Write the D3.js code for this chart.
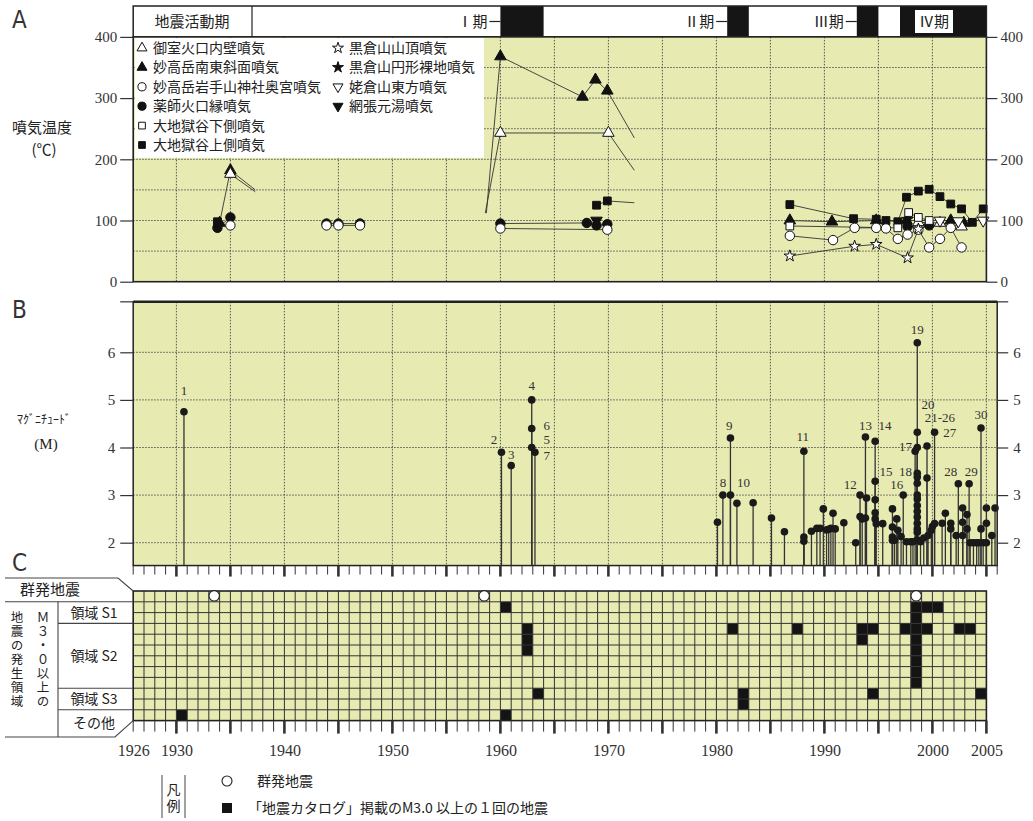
<!DOCTYPE html>
<html>
<head>
<meta charset="utf-8">
<script src="https://cdn.jsdelivr.net/npm/d3@7"></script>
<style>
body { margin: 0; background: #fff; }
svg { display: block; }
.vert { writing-mode: vertical-rl; text-orientation: upright; }
</style>
</head>
<body>
<svg id="chart" width="1033" height="821"></svg>
<script>
// ---- data ----
// header: earthquake activity periods
const periodLabels = ['Ⅰ期', 'Ⅱ期', 'Ⅲ期', 'Ⅳ期'];
const periodStart = [1960, 1981, 1993, 1997];
const periodEnd = [1964, 1983, 1995, 2005];

// panel A: fumarole temperature, each series = runs of [year, °C]
const seriesNames = ['御室火口内壁噴気', '妙高岳南東斜面噴気', '妙高岳岩手山神社奥宮噴気', '薬師火口縁噴気',
  '大地獄谷下側噴気', '大地獄谷上側噴気', '黒倉山山頂噴気', '黒倉山円形裸地噴気', '姥倉山東方噴気', '網張元湯噴気'];
const tOmuro = [[[1935, 176]], [[1960, 243], [1970, 243]], [[1998.7, 97], [2000.7, 96], [2002.7, 90]]];
const tNantou = [[[1934, 96], [1935, 182]], [[1960, 368], [1967.6, 302], [1968.8, 330], [1969.9, 312]],
  [[1986.8, 100], [1990.7, 98], [1994.8, 100], [1997.6, 100], [2001.7, 100], [2002.9, 96]]];
const tIwate = [[[1935, 92]], [[1943.9, 92], [1945, 92], [1947, 92]], [[1960, 87], [1969.9, 85]],
  [[1986.8, 75], [1990.8, 68], [1992.8, 88], [1994.8, 88], [1995.7, 87], [1996.8, 70], [1997.7, 77],
   [1998.7, 85], [1999.7, 56], [2000.7, 70], [2001.7, 88], [2002.7, 56]]];
const tYakushi = [[[1933.8, 88], [1935, 105]], [[1943.9, 95], [1945, 95], [1947, 95]],
  [[1960, 95], [1968, 96], [1968.9, 92], [1969.9, 94]], [[1997.7, 90], [1999.7, 92]]];
const tJigokuLow = [[[1986.8, 91], [1996.8, 88], [1997.8, 113], [1998.7, 105], [1999.7, 100]]];
const tJigokuUp = [[[1933.8, 98]], [[1968.9, 125], [1969.9, 132]],
  [[1986.8, 126], [1992.7, 103], [1994.8, 102], [1995.7, 100], [1996.8, 98], [1997.6, 138], [1998.7, 148],
   [1999.7, 151], [2000.7, 139], [2001.7, 127], [2002.7, 119], [2003.7, 97], [2004.7, 119]]];
const tKurokuraTop = [[[1986.8, 42], [1992.8, 58], [1994.8, 61], [1997.7, 39], [1998.7, 86]]];
const tKurokuraBare = [[[1997.7, 102]]];
const tUbakura = [[[2000.7, 100], [2002.4, 99], [2004.7, 100]]];
const tAmihari = [[[1968.9, 100]]];
const tempSeries = [tOmuro, tNantou, tIwate, tYakushi, tJigokuLow, tJigokuUp, tKurokuraTop, tKurokuraBare, tUbakura, tAmihari];
// broken connecting lines: [year1, °C1, year2, °C2]
const tempTails = [[1935, 182, 1937.3, 150], [1935, 176, 1937.3, 147], [1958.7, 112, 1960, 368],
  [1958.6, 112, 1960, 243], [1969.9, 312, 1972.4, 235], [1970, 243, 1972.4, 182], [1969.9, 132, 1972.4, 129]];
const tempTicks = [0, 100, 200, 300, 400];

// panel B: earthquakes [year, magnitude]
const quakes = [
  [1930.7, 4.75], [1960.1, 3.9], [1961.0, 3.62], [1962.9, 5.0], [1962.9, 4.4], [1962.9, 4.0], [1963.2, 3.9],
  [1980.1, 2.43], [1980.6, 3.0], [1981.3, 4.2], [1981.3, 3.0], [1981.9, 2.83], [1983.4, 2.84], [1985.1, 2.52],
  [1986.3, 2.23], [1988.1, 3.92], [1988.1, 2.12], [1988.1, 2.03], [1988.8, 2.24], [1989.3, 2.3], [1989.6, 2.3],
  [1989.9, 2.71], [1990.2, 2.27], [1990.4, 2.28], [1990.6, 2.3], [1990.8, 2.62], [1991.0, 2.29], [1991.8, 2.42],
  [1992.9, 2.0], [1993.3, 3.0], [1993.3, 2.55], [1993.5, 2.5], [1993.8, 4.22], [1993.8, 2.52], [1993.9, 2.94],
  [1994.7, 4.13], [1994.7, 3.29], [1994.7, 2.9], [1994.7, 2.63], [1994.7, 2.5], [1994.8, 2.4], [1995.4, 2.4],
  [1996.3, 2.71], [1996.3, 2.33], [1996.3, 2.12], [1996.3, 2.05], [1996.5, 2.05], [1996.7, 2.5], [1996.8, 2.26],
  [1997.1, 2.13], [1997.3, 3.0], [1997.6, 2.02], [1998.0, 2.02], [1998.2, 2.02], [1998.4, 3.92],
  [1998.6, 6.2], [1998.6, 4.32], [1998.6, 4.0], [1998.6, 3.46], [1998.6, 3.38], [1998.6, 3.25], [1998.6, 3.0],
  [1998.6, 2.92], [1998.6, 2.78], [1998.6, 2.66], [1998.6, 2.54], [1998.6, 2.41], [1998.6, 2.29], [1998.6, 2.22],
  [1998.6, 2.06], [1998.9, 2.02], [1999.2, 2.1], [1999.5, 4.03], [1999.5, 3.36], [1999.6, 2.15], [1999.9, 2.26],
  [2000.0, 2.34], [2000.2, 4.32], [2000.2, 2.4], [2000.9, 2.41], [2001.2, 2.62], [2001.7, 2.41], [2001.7, 2.29],
  [2002.2, 2.15], [2002.4, 3.24], [2002.8, 2.73], [2002.8, 2.43], [2002.8, 2.15], [2003.2, 2.59], [2003.2, 2.29],
  [2003.4, 3.24], [2003.5, 2.0], [2003.8, 2.0], [2004.1, 2.0], [2004.3, 2.0], [2004.5, 4.41], [2004.5, 2.29],
  [2004.7, 2.0], [2005.0, 2.73], [2005.0, 2.41], [2005.0, 2.0], [2005.5, 2.15], [2005.8, 2.73]
];
// quake number labels: [text, year, magnitude]
const quakeLabels = [
  ['1', 1930.7, 5.2], ['2', 1959.4, 4.17], ['3', 1961.0, 3.85], ['4', 1962.9, 5.3], ['6', 1964.3, 4.46],
  ['5', 1964.3, 4.16], ['7', 1964.3, 3.83], ['8', 1980.6, 3.27], ['9', 1981.2, 4.46], ['10', 1982.5, 3.27],
  ['11', 1988.0, 4.23], ['12', 1992.4, 3.22], ['13', 1993.8, 4.46], ['14', 1995.6, 4.46], ['15', 1995.7, 3.5],
  ['16', 1996.7, 3.22], ['17', 1997.5, 4.03], ['18', 1997.5, 3.5], ['19', 1998.6, 6.47], ['20', 1999.6, 4.9],
  ['21-26', 2000.7, 4.62], ['27', 2001.6, 4.32], ['28', 2001.7, 3.5], ['29', 2003.6, 3.5], ['30', 2004.5, 4.69]
];
const magTicks = [2, 3, 4, 5, 6];

// panel C: grid of years x regions
const regionLabels = ['群発地震', '領域 S1', '領域 S2', '領域 S3', 'その他'];
const regionRows = [1, 2, 6, 2, 1];
const swarmYears = [1933, 1958, 1998];
// [year, row] cells with an M3.0+ event
const quakeCells = [[1930, 11], [1960, 1], [1960, 11], [1962, 3], [1962, 4], [1962, 5], [1963, 9],
  [1981, 3], [1982, 9], [1982, 10], [1987, 3], [1993, 3], [1993, 4], [1994, 3], [1994, 9],
  [1997, 3], [1998, 1], [1998, 2], [1998, 3], [1998, 4], [1998, 5], [1998, 6], [1998, 7], [1998, 8],
  [1999, 1], [1999, 3], [2000, 1], [2002, 3], [2003, 3], [2004, 9]];
const yearLabels = [1926, 1930, 1940, 1950, 1960, 1970, 1980, 1990, 2000, 2005];

// ---- drawing ----
const jp = '"Noto Sans CJK JP", sans-serif';
const num = '"Liberation Serif", "DejaVu Serif", serif';
const bg = '#e7ebb2';
const ink = '#222';
const svg = d3.select('#chart');

const x = d3.scaleLinear().domain([1926, 2006]).range([133.2, 997.2]);
const yA = d3.scaleLinear().domain([0, 400]).range([281.7, 36.9]);
const yB = d3.scaleLinear().domain([2, 6]).range([542.7, 352.3]);

function panelLetter(t, y) {
  svg.append('text').attr('x', 12).attr('y', y).text(t)
    .attr('font-family', '"DejaVu Sans Condensed", "DejaVu Sans", sans-serif')
    .attr('font-size', 24).attr('fill', '#333');
}
panelLetter('A', 28);
panelLetter('B', 318);
panelLetter('C', 571);

function styleAxis(g, size) {
  g.select('.domain').remove();
  g.selectAll('line').attr('stroke', '#333').attr('stroke-width', 1.2);
  g.selectAll('text').attr('font-family', num).attr('font-size', size).attr('fill', '#333');
}

// header band
const hTop = 6, hBot = yA(400);
svg.append('rect').attr('x', x(1926)).attr('y', hTop).attr('width', x(2005) - x(1926))
  .attr('height', hBot - hTop).attr('fill', '#fff');
svg.selectAll('.period').data(periodLabels).enter().append('rect')
  .attr('x', (d, i) => x(periodStart[i])).attr('y', hTop)
  .attr('width', (d, i) => x(periodEnd[i]) - x(periodStart[i])).attr('height', hBot - hTop)
  .attr('fill', '#151515');
svg.append('rect').attr('x', x(1926)).attr('y', hTop).attr('width', x(2005) - x(1926))
  .attr('height', hBot - hTop).attr('fill', 'none').attr('stroke', ink).attr('stroke-width', 1.5);
svg.append('line').attr('x1', 252).attr('x2', 252).attr('y1', hTop).attr('y2', hBot)
  .attr('stroke', ink).attr('stroke-width', 1.2);
svg.append('text').attr('x', 192).attr('y', 27).attr('text-anchor', 'middle').text('地震活動期')
  .attr('font-family', jp).attr('font-size', 15).attr('fill', ink);
periodLabels.forEach((p, i) => {
  const x0 = x(periodStart[i]);
  if (i < 3) {
    svg.append('text').attr('x', x0 - 13).attr('y', 27).attr('text-anchor', 'end').text(p)
      .attr('font-family', jp).attr('font-size', 15).attr('fill', ink);
    svg.append('line').attr('x1', x0 - 11).attr('x2', x0).attr('y1', 21.5).attr('y2', 21.5)
      .attr('stroke', ink).attr('stroke-width', 1.2);
  } else {
    svg.append('rect').attr('x', x0 + 15).attr('y', 10).attr('width', 38).attr('height', 23)
      .attr('fill', '#fff');
    svg.append('text').attr('x', x0 + 34).attr('y', 27).attr('text-anchor', 'middle').text(p)
      .attr('font-family', jp).attr('font-size', 15).attr('fill', ink);
  }
});

// panel A
svg.append('rect').attr('x', x(1926)).attr('y', yA(400)).attr('width', x(2005) - x(1926))
  .attr('height', yA(0) - yA(400)).attr('fill', bg);
svg.selectAll('.vgA').data(d3.range(1930, 2005, 5)).enter().append('line')
  .attr('x1', d => x(d)).attr('x2', d => x(d)).attr('y1', yA(400)).attr('y2', yA(0))
  .attr('stroke', '#555').attr('stroke-width', 1).attr('stroke-dasharray', '1.5,1.5');
svg.selectAll('.hgA').data(d3.range(50, 400, 50)).enter().append('line')
  .attr('x1', x(1926)).attr('x2', x(2005)).attr('y1', d => yA(d)).attr('y2', d => yA(d))
  .attr('stroke', '#555').attr('stroke-width', 1).attr('stroke-dasharray', '1.5,1.5');

const markStyle = [
  {type: d3.symbolTriangle, rot: 0, fill: false, size: 58},
  {type: d3.symbolTriangle, rot: 0, fill: true, size: 58},
  {type: d3.symbolCircle, rot: 0, fill: false, size: 70},
  {type: d3.symbolCircle, rot: 0, fill: true, size: 70},
  {type: d3.symbolSquare, rot: 0, fill: false, size: 60},
  {type: d3.symbolSquare, rot: 0, fill: true, size: 60},
  {type: d3.symbolStar, rot: 0, fill: false, size: 42},
  {type: d3.symbolStar, rot: 0, fill: true, size: 42},
  {type: d3.symbolTriangle, rot: 180, fill: false, size: 58},
  {type: d3.symbolTriangle, rot: 180, fill: true, size: 58}
];
function drawMark(g, s, cx, cy, scale) {
  g.append('path').attr('d', d3.symbol().type(s.type).size(s.size * scale)())
    .attr('transform', `translate(${cx},${cy}) rotate(${s.rot})`)
    .attr('fill', s.fill ? '#111' : '#fff').attr('stroke', '#111').attr('stroke-width', 1);
}

const gLines = svg.append('g');
const lineA = d3.line().x(d => x(d[0])).y(d => yA(d[1]));
tempSeries.forEach(runs => runs.filter(r => r.length > 1).forEach(r => {
  gLines.append('path').attr('d', lineA(r)).attr('fill', 'none').attr('stroke', '#333').attr('stroke-width', 0.9);
}));
gLines.selectAll('.tail').data(tempTails).enter().append('line')
  .attr('x1', d => x(d[0])).attr('y1', d => yA(d[1])).attr('x2', d => x(d[2])).attr('y2', d => yA(d[3]))
  .attr('stroke', '#333').attr('stroke-width', 0.9);
const gMarks = svg.append('g');
[1, 3, 5, 7, 9, 0, 2, 4, 6, 8].forEach(i => {
  tempSeries[i].forEach(r => r.forEach(p => drawMark(gMarks, markStyle[i], x(p[0]), yA(p[1]), 1)));
});

// legend A
const gLeg = svg.append('g');
gLeg.append('rect').attr('x', 135).attr('y', yA(400) + 1).attr('width', 349).attr('height', 120).attr('fill', '#fff');
seriesNames.forEach((n, i) => {
  const col = i < 6 ? 0 : 1;
  const row = i < 6 ? i : i - 6;
  const sx = col === 0 ? 142 : 338;
  const cy = 48 + row * 19.4;
  drawMark(gLeg, markStyle[i], sx, cy, i === 6 || i === 7 ? 0.9 : 0.75);
  gLeg.append('text').attr('x', sx + 11).attr('y', cy + 5).text(n)
    .attr('font-family', jp).attr('font-size', 14).attr('fill', ink);
});

svg.append('rect').attr('x', x(1926)).attr('y', yA(400)).attr('width', x(2005) - x(1926))
  .attr('height', yA(0) - yA(400)).attr('fill', 'none').attr('stroke', ink).attr('stroke-width', 1.6);
svg.append('g').attr('transform', `translate(${x(1926)},0)`)
  .call(d3.axisLeft(yA).tickValues(tempTicks).tickSize(13).tickPadding(3)).call(g => styleAxis(g, 15));
svg.append('g').attr('transform', `translate(${x(2005)},0)`)
  .call(d3.axisRight(yA).tickValues(tempTicks).tickSize(11).tickPadding(3)).call(g => styleAxis(g, 15));
svg.append('text').attr('x', 42).attr('y', 133).attr('text-anchor', 'middle').text('噴気温度')
  .attr('font-family', jp).attr('font-size', 15).attr('fill', ink);
svg.append('text').attr('x', 44).attr('y', 155).attr('text-anchor', 'middle').text('(℃)')
  .attr('font-family', jp).attr('font-size', 15).attr('fill', ink);

// panel B
const bTop = yB(7.06), bBot = yB(1.52);
svg.append('rect').attr('x', x(1926)).attr('y', bTop).attr('width', x(2006) - x(1926))
  .attr('height', bBot - bTop).attr('fill', bg);
svg.selectAll('.vgB').data(d3.range(1930, 2006, 5)).enter().append('line')
  .attr('x1', d => x(d)).attr('x2', d => x(d)).attr('y1', bTop).attr('y2', bBot)
  .attr('stroke', '#555').attr('stroke-width', 1).attr('stroke-dasharray', '1.5,1.5');
svg.selectAll('.hgB').data(magTicks).enter().append('line')
  .attr('x1', x(1926)).attr('x2', x(2006)).attr('y1', d => yB(d)).attr('y2', d => yB(d))
  .attr('stroke', '#555').attr('stroke-width', 1).attr('stroke-dasharray', '1.5,1.5');

const gQ = svg.append('g');
gQ.selectAll('.stem').data(quakes).enter().append('line')
  .attr('x1', d => x(d[0])).attr('x2', d => x(d[0])).attr('y1', bBot).attr('y2', d => yB(d[1]))
  .attr('stroke', '#333').attr('stroke-width', 1.3);
gQ.selectAll('.dot').data(quakes).enter().append('circle')
  .attr('cx', d => x(d[0])).attr('cy', d => yB(d[1])).attr('r', 3.8).attr('fill', '#1a1a1a');
gQ.selectAll('.qlab').data(quakeLabels).enter().append('text')
  .attr('x', d => x(d[1])).attr('y', d => yB(d[2]) + 4.5).attr('text-anchor', 'middle').text(d => d[0])
  .attr('font-family', num).attr('font-size', 13).attr('fill', '#333');

svg.append('rect').attr('x', x(1926)).attr('y', bTop).attr('width', x(2006) - x(1926))
  .attr('height', bBot - bTop).attr('fill', 'none').attr('stroke', ink).attr('stroke-width', 1.5);
svg.append('line').attr('x1', x(1926)).attr('x2', x(2006)).attr('y1', bTop).attr('y2', bTop)
  .attr('stroke', ink).attr('stroke-width', 2.5);
svg.append('g').attr('transform', `translate(${x(1926)},0)`)
  .call(d3.axisLeft(yB).tickValues(magTicks).tickFormat(d3.format('d')).tickSize(13).tickPadding(5))
  .call(g => styleAxis(g, 15));
svg.append('g').attr('transform', `translate(${x(2006)},0)`)
  .call(d3.axisRight(yB).tickValues(magTicks).tickFormat(d3.format('d')).tickSize(11).tickPadding(5))
  .call(g => styleAxis(g, 15));
svg.append('line').attr('x1', x(1926) - 13).attr('x2', x(1926)).attr('y1', bTop).attr('y2', bTop)
  .attr('stroke', '#333').attr('stroke-width', 1.2);
svg.append('line').attr('x1', x(2006)).attr('x2', x(2006) + 11).attr('y1', bTop).attr('y2', bTop)
  .attr('stroke', '#333').attr('stroke-width', 1.2);
svg.append('text').attr('x', 44).attr('y', 424).attr('text-anchor', 'middle').text('ﾏｸﾞﾆﾁｭｰﾄﾞ')
  .attr('font-family', jp).attr('font-size', 12).attr('fill', ink);
svg.append('text').attr('x', 46).attr('y', 449).attr('text-anchor', 'middle').text('(M)')
  .attr('font-family', num).attr('font-size', 15).attr('fill', ink);

// year ticks under B
const tickYearsB = d3.range(1926, 2007);
svg.selectAll('.tkB').data(tickYearsB).enter().append('line')
  .attr('x1', d => x(d)).attr('x2', d => x(d)).attr('y1', bBot)
  .attr('y2', d => bBot + (d % 5 === 0 ? 11 : 9))
  .attr('stroke', '#333').attr('stroke-width', d => d % 5 === 0 ? 2.6 : 1);

// panel C
const cTop = 591, rowH = 10.8, nRows = d3.sum(regionRows);
const yC = d3.scaleLinear().domain([0, nRows]).range([cTop, cTop + nRows * rowH]);
const cBot = yC(nRows);
svg.append('rect').attr('x', x(1926)).attr('y', cTop).attr('width', x(2005) - x(1926))
  .attr('height', cBot - cTop).attr('fill', bg);
svg.selectAll('.qc').data(quakeCells).enter().append('rect')
  .attr('x', d => x(d[0])).attr('y', d => yC(d[1])).attr('width', x(1927) - x(1926)).attr('height', rowH)
  .attr('fill', '#141414');
svg.selectAll('.vgC').data(d3.range(1927, 2005)).enter().append('line')
  .attr('x1', d => x(d)).attr('x2', d => x(d)).attr('y1', cTop).attr('y2', cBot)
  .attr('stroke', '#333').attr('stroke-width', 1);
svg.selectAll('.hgC').data(d3.range(1, nRows)).enter().append('line')
  .attr('x1', x(1926)).attr('x2', x(2005)).attr('y1', d => yC(d)).attr('y2', d => yC(d))
  .attr('stroke', '#333').attr('stroke-width', 1);
svg.append('rect').attr('x', x(1926)).attr('y', cTop).attr('width', x(2005) - x(1926))
  .attr('height', cBot - cTop).attr('fill', 'none').attr('stroke', ink).attr('stroke-width', 1.6);
svg.selectAll('.sw').data(swarmYears).enter().append('circle')
  .attr('cx', d => x(d + 0.5)).attr('cy', yC(0.45)).attr('r', 5.2)
  .attr('fill', '#fff').attr('stroke', '#222').attr('stroke-width', 1.1);

// year ticks under C
svg.selectAll('.tkC').data(d3.range(1926, 2006)).enter().append('line')
  .attr('x1', d => x(d)).attr('x2', d => x(d)).attr('y1', cBot)
  .attr('y2', d => cBot + (d % 5 === 0 ? 13 : 11))
  .attr('stroke', '#333').attr('stroke-width', d => d % 5 === 0 ? 2.6 : 1);
svg.append('g').attr('transform', `translate(0,745)`)
  .call(d3.axisBottom(x).tickValues(yearLabels).tickFormat(d3.format('d')).tickSize(0).tickPadding(0))
  .call(g => { styleAxis(g, 16); g.selectAll('text').attr('dy', '0.71em'); });

// region labels box
const gR = svg.append('g').attr('fill', 'none').attr('stroke', '#444').attr('stroke-width', 1.1);
gR.append('path').attr('d', `M5,578H118L${x(1926)},${cTop}`);
gR.append('path').attr('d', `M5,${yC(1)}H${x(1926)}`);
gR.append('path').attr('d', `M58,${yC(1)}V737`);
gR.append('path').attr('d', `M5,737H115L${x(1926)},${cBot}`);
let acc = 0;
regionRows.forEach((n, i) => {
  const r0 = acc; acc += n;
  if (i > 0 && i < regionRows.length - 1) {
    gR.append('path').attr('d', `M58,${yC(acc)}H${x(1926)}`);
  }
  const cy = i === 0 ? 595 : (i === regionRows.length - 1 ? 728 : (yC(r0) + yC(acc)) / 2 + 5);
  svg.append('text').attr('x', i === 0 ? 50 : 94).attr('y', cy).attr('text-anchor', 'middle').text(regionLabels[i])
    .attr('font-family', jp).attr('font-size', i === 0 ? 15 : 14).attr('fill', ink);
});
// vertical captions
function vText(t, cx, top, size, gap) {
  svg.append('text').attr('class', 'vert').attr('x', cx).attr('y', top).text(t)
    .attr('font-family', jp).attr('font-size', size).attr('letter-spacing', gap).attr('fill', ink);
}
vText('地震の発生領域', 17, 611, 12.5, 1.5);
vText('Ｍ３・０以上の', 43, 611, 12.5, 1.5);

// bottom legend
svg.append('line').attr('x1', 162).attr('x2', 162).attr('y1', 775).attr('y2', 818).attr('stroke', '#444');
svg.append('line').attr('x1', 185).attr('x2', 185).attr('y1', 775).attr('y2', 818).attr('stroke', '#444');
vText('凡例', 173.5, 783, 14, 2);
svg.append('circle').attr('cx', 227).attr('cy', 781).attr('r', 5).attr('fill', '#fff')
  .attr('stroke', '#222').attr('stroke-width', 1.1);
svg.append('text').attr('x', 257).attr('y', 786).text('群発地震')
  .attr('font-family', jp).attr('font-size', 14).attr('fill', ink);
svg.append('rect').attr('x', 222).attr('y', 803).attr('width', 10).attr('height', 10).attr('fill', '#141414');
svg.append('text').attr('x', 248).attr('y', 813).text('「地震カタログ」掲載のM3.0 以上の１回の地震')
  .attr('font-family', jp).attr('font-size', 14).attr('fill', ink);
</script>
</body>
</html>
